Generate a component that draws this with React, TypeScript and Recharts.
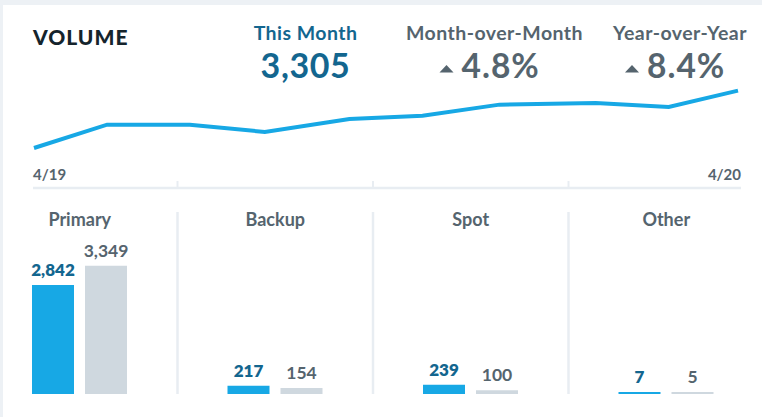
import {
  Bar,
  BarChart,
  LabelList,
  Line,
  LineChart,
  ReferenceLine,
  XAxis,
  YAxis,
} from 'recharts';

// monthly volume, x = days since 4/19
const lineDays = [0, 38, 81, 120, 164, 202, 242, 292, 330, 366];
const lineVolume = [2772, 2989, 2989, 2921, 3042, 3072, 3175, 3191, 3154, 3305];
const lineEndLabels = ['4/19', '4/20'];

const segments = ['Primary', 'Backup', 'Spot', 'Other'];
const thisPeriod = [2842, 217, 239, 7];
const lastPeriod = [3349, 154, 100, 5];

const kpiLabels = ['This Month', 'Month-over-Month', 'Year-over-Year'];
const kpiValues = ['3,305', '4.8%', '8.4%'];

const BLUE = '#17a8e5';
const GRAY_BAR = '#cfd8df';
const TEAL = '#13668f';
const SLATE = '#55646e';
const DIVIDER = '#e8edf2';
const FONT = 'Lato, "Open Sans", sans-serif';

// layout
const LINE_LEFT = 34;
const LINE_RIGHT = 738;
const BAR_LEFT = -18;
const BAR_W = 782;
const SECTION_W = BAR_W / segments.length;

const lineData = lineDays.map((day, i) => ({ day, volume: lineVolume[i] }));
const barData = segments.map((name, i) => ({ idx: i, name, current: thisPeriod[i], prior: lastPeriod[i] }));

const X_MAX = lineDays[lineDays.length - 1];
const dividerTicks = [1, 2, 3].map((i) => {
  const px = BAR_LEFT + i * SECTION_W;
  return ((px - LINE_LEFT) / (LINE_RIGHT - LINE_LEFT)) * X_MAX;
});

function LineTick(props: any) {
  const { x, y, payload } = props;
  if (payload.value === 0 || payload.value === X_MAX) {
    const first = payload.value === 0;
    return (
      <text
        x={first ? x - 1 : x + 3}
        y={y - 8}
        textAnchor={first ? 'start' : 'end'}
        fill={SLATE}
        fontSize={15}
        fontWeight={700}
        fontFamily={FONT}
      >
        {first ? lineEndLabels[0] : lineEndLabels[1]}
      </text>
    );
  }
  return <line x1={x} x2={x} y1={y - 7} y2={y} stroke={DIVIDER} strokeWidth={2} />;
}

function SegmentTick(props: any) {
  const { x, y, payload } = props;
  return (
    <text x={x} y={y + 14} textAnchor="middle" fill={SLATE} fontSize={18} fontWeight={700} fontFamily={FONT}>
      {segments[payload.value]}
    </text>
  );
}

function Header() {
  const centers = [305.5, 494.5, 680];
  return (
    <svg width={762} height={100} style={{ position: 'absolute', left: 0, top: 0 }}>
      <text x={33} y={45} fontSize={21} fontWeight={900} fill="#15242c" letterSpacing={1} fontFamily={FONT}>
        VOLUME
      </text>
      {kpiLabels.map((label, i) => (
        <g key={label}>
          <text
            x={centers[i]}
            y={40}
            textAnchor="middle"
            fontSize={19.5}
            fontWeight={700}
            letterSpacing={0.45}
            fill={i === 0 ? TEAL : SLATE}
            fontFamily={FONT}
          >
            {label}
          </text>
          {i === 0 ? (
            <text
              x={centers[i]}
              y={78}
              textAnchor="middle"
              fontSize={34}
              fontWeight={700}
              letterSpacing={0.6}
              fill={TEAL}
              fontFamily={FONT}
            >
              {kpiValues[i]}
            </text>
          ) : (
            <g>
              <polygon
                points={`${centers[i] - 55},72.5 ${centers[i] - 41},72.5 ${centers[i] - 48},65`}
                fill={SLATE}
              />
              <text
                x={centers[i] - 33}
                y={78}
                fontSize={33.5}
                fontWeight={700}
                letterSpacing={1}
                fill={SLATE}
                fontFamily={FONT}
              >
                {kpiValues[i]}
              </text>
            </g>
          )}
        </g>
      ))}
    </svg>
  );
}

export default function App() {
  return (
    <div
      style={{
        position: 'absolute',
        left: 0,
        top: 0,
        width: 762,
        height: 417,
        overflow: 'hidden',
        background: '#edf1f5',
        fontFamily: FONT,
      }}
    >
      <div style={{ position: 'absolute', left: 3, top: 5, width: 759, height: 412, background: '#fff' }} />
      <Header />
      <div style={{ position: 'absolute', left: 0, top: 0 }}>
        <LineChart width={762} height={200} data={lineData} margin={{ top: 60, right: 21, bottom: 0, left: 33 }}>
          <XAxis
            dataKey="day"
            type="number"
            domain={[0, X_MAX]}
            padding={{ left: 1, right: 3 }}
            ticks={[0, ...dividerTicks, X_MAX]}
            interval={0}
            height={12}
            tickSize={0}
            tickMargin={0}
            tickLine={false}
            axisLine={{ stroke: DIVIDER, strokeWidth: 2.5 }}
            tick={<LineTick />}
          />
          <YAxis hide domain={[2400, 3590]} />
          <Line
            type="linear"
            dataKey="volume"
            stroke={BLUE}
            strokeWidth={4}
            dot={false}
            isAnimationActive={false}
          />
        </LineChart>
      </div>
      <div style={{ position: 'absolute', left: BAR_LEFT, top: 190 }}>
        <BarChart
          width={BAR_W}
          height={227}
          data={barData}
          barSize={42}
          barGap={11}
          margin={{ top: 0, right: 0, bottom: 23, left: 0 }}
        >
          <XAxis
            dataKey="idx"
            type="number"
            orientation="top"
            domain={[-0.5, segments.length - 0.5]}
            ticks={[0, 1, 2, 3]}
            interval={0}
            height={22}
            tickSize={0}
            tickMargin={0}
            axisLine={false}
            tickLine={false}
            tick={<SegmentTick />}
          />
          <YAxis hide domain={[0, 4750]} />
          {[0.5, 1.5, 2.5].map((v) => (
            <ReferenceLine key={v} x={v} stroke={DIVIDER} strokeWidth={2.5} />
          ))}
          <Bar dataKey="current" fill={BLUE} minPointSize={2} isAnimationActive={false}>
            <LabelList
              dataKey="current"
              position="top"
              offset={9}
              formatter={(v: any) => Number(v).toLocaleString('en-US')}
              fill={TEAL}
              fontSize={17}
              fontWeight={800}
              fontFamily={FONT}
            />
          </Bar>
          <Bar dataKey="prior" fill={GRAY_BAR} minPointSize={2} isAnimationActive={false}>
            <LabelList
              dataKey="prior"
              position="top"
              offset={9}
              formatter={(v: any) => Number(v).toLocaleString('en-US')}
              fill={SLATE}
              fontSize={17.5}
              fontWeight={700}
              fontFamily={FONT}
            />
          </Bar>
        </BarChart>
      </div>
    </div>
  );
}
